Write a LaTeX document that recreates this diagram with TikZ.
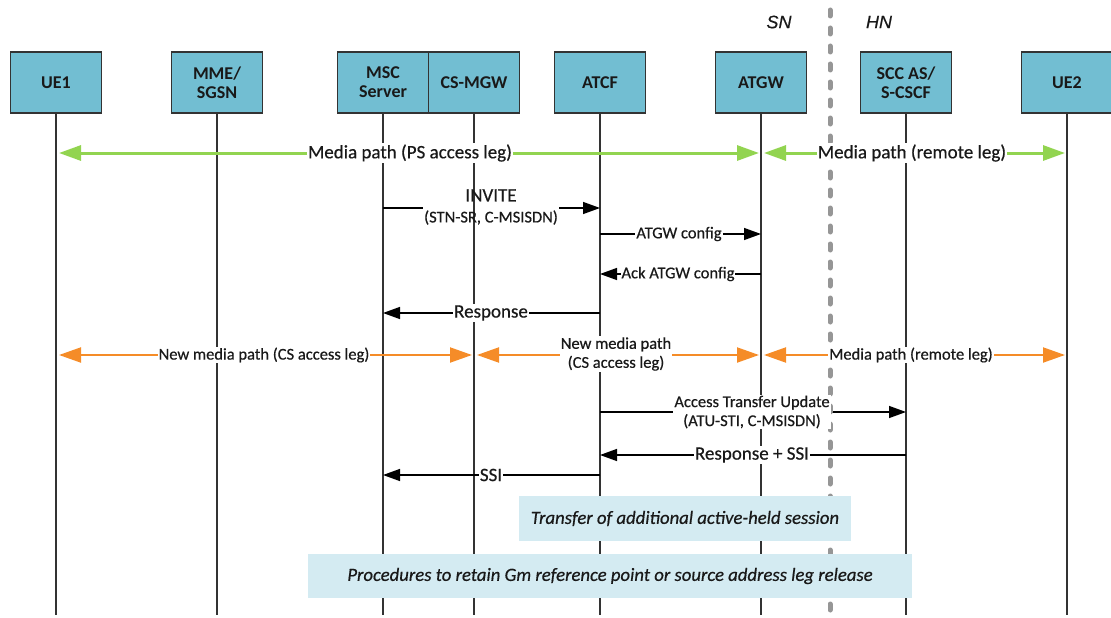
\documentclass[tikz,border=0pt]{standalone}
\usepackage{fontspec}
\setmainfont{Carlito}[UprightFeatures={FakeBold=0.5},ItalicFeatures={FakeBold=0.5}]
\newfontfamily\snfont{Liberation Sans}[FakeBold=0.5]
\usetikzlibrary{arrows.meta}
\definecolor{boxblue}{RGB}{114,190,210}
\definecolor{phaseblue}{RGB}{212,235,242}
\definecolor{mgreen}{RGB}{146,212,80}
\definecolor{morange}{RGB}{245,140,40}
\definecolor{sepgray}{RGB}{150,150,150}
\definecolor{txt}{RGB}{25,25,25}
\begin{document}
\begin{tikzpicture}[x=1pt,y=-1pt,
  ent/.style={draw=black!80, line width=1.3pt, fill=boxblue, minimum width=91pt, minimum height=61pt,
    inner sep=0pt, align=center, font=\fontsize{18}{19}\selectfont\bfseries, text=txt},
  life/.style={draw=black!80, line width=1.5pt},
  msg/.style={draw=black, line width=1.4pt, -{Triangle[length=17pt,width=12pt]}},
  gmedia/.style={draw=mgreen, line width=3pt,
    {Triangle[length=22pt,width=15pt]}-{Triangle[length=22pt,width=15pt]}, shorten <=3pt, shorten >=2pt},
  omedia/.style={draw=morange, line width=2pt,
    {Triangle[length=22pt,width=15pt]}-{Triangle[length=22pt,width=15pt]}, shorten <=3pt, shorten >=2pt},
  lab/.style={fill=white, inner sep=1pt, text=txt, font=\fontsize{19}{21}\selectfont},
  slab/.style={fill=white, inner sep=1pt, text=txt, align=center, font=\fontsize{16.5}{19}\selectfont},
  phase/.style={fill=phaseblue, inner sep=0pt, text=txt, font=\fontsize{18.7}{20}\selectfont\itshape},
  netlab/.style={text=txt, font=\snfont\itshape\fontsize{18}{20}\selectfont},
  sepline/.style={draw=sepgray, line width=5pt, line cap=round, dash pattern=on 6pt off 12pt}
]
\useasboundingbox (0,0) rectangle (1111,618);

% entities
\node[ent] (ue1)   at (56,82.5)   {UE1};
\node[ent] (mme)   at (217,82.5)  {MME/\\SGSN};
\node[ent] (msc)   at (383,82.5)  {MSC\\Server};
\node[ent] (csmgw) at (474,82.5)  {CS-MGW};
\node[ent] (atcf)  at (600,82.5)  {ATCF};
\node[ent] (atgw)  at (761,82.5)  {ATGW};
\node[ent] (scc)   at (906,82.5)  {SCC AS/\\S-CSCF};
\node[ent] (ue2)   at (1067,82.5) {UE2};

% lifelines
\foreach \n in {ue1,mme,msc,csmgw,atcf,atgw,scc,ue2}
  \draw[life] (\n.south) -- (\n |- 0,615);

% media paths and messages
\draw[gmedia] (ue1 |- 0,153) -- (atgw |- 0,153);
\draw[gmedia] (atgw |- 0,153) -- (ue2 |- 0,153);

\node[slab, fill=none] (inv) at (491,207) {{\fontsize{19}{21}\selectfont INVITE}\\[2pt](STN-SR, C-MSISDN)};
\draw[line width=1.4pt] (msc |- 0,208) -- (inv.west |- 0,208);
\draw[msg] (inv.east |- 0,208) -- (atcf |- 0,208);

\draw[msg] (atcf |- 0,234) -- (atgw |- 0,234);
\draw[msg] (atgw |- 0,274) -- (atcf |- 0,274);
\draw[msg] (atcf |- 0,313) -- (msc |- 0,313);

\draw[omedia] (ue1 |- 0,355) -- (csmgw |- 0,355);
\draw[omedia] (csmgw |- 0,355) -- (atgw |- 0,355);
\draw[omedia] (atgw |- 0,355) -- (ue2 |- 0,355);

\draw[msg] (atcf |- 0,412) -- (scc |- 0,412);
\draw[msg] (scc |- 0,455) -- (atcf |- 0,455);
\draw[msg] (atcf |- 0,475) -- (msc |- 0,475);

% SN / HN separator
\draw[sepline] (830,10) -- (830,610);
\node[netlab] (sn) at (779,22) {SN};
\node[netlab] (hn) at (879,22) {HN};

% labels
\node[lab]  (l1)  at (410,153) {Media path (PS access leg)};
\node[lab]  (l2)  at (912,153) {Media path (remote leg)};
\node[slab] (l3)  at (679,234) {ATGW config};
\node[slab] (l4)  at (678,274) {Ack ATGW config};
\node[lab]  (l5)  at (491,313) {Response};
\node[slab] (l6)  at (264,355) {New media path (CS access leg)};
\node[slab] (l7)  at (616,354) {New media path\\(CS access leg)};
\node[slab] (l8)  at (911,355) {Media path (remote leg)};
\node[slab] (l9)  at (752,412) {Access Transfer Update\\(ATU-STI, C-MSISDN)};
\node[lab]  (l10) at (752,455) {Response + SSI};
\node[lab]  (l11) at (491,475) {SSI};

% phase boxes
\node[phase, minimum width=332pt, minimum height=45pt] (tr) at (685,518.5) {Transfer of additional active-held session};
\node[phase, minimum width=604pt, minimum height=44pt] (pr) at (610,576) {Procedures to retain Gm reference point or source address leg release};
\end{tikzpicture}
\end{document}
